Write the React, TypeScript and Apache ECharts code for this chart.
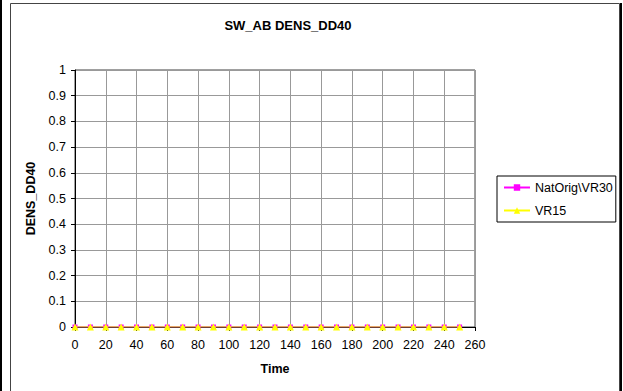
import React, { useEffect, useRef } from "react";
import * as echarts from "echarts";

const titleText = "SW_AB DENS_DD40";
const xAxisName = "Time";
const yAxisName = "DENS_DD40";
const seriesNames = ["NatOrig\\VR30", "VR15"];
const times = [0, 10, 20, 30, 40, 50, 60, 70, 80, 90, 100, 110, 120, 130, 140, 150, 160, 170, 180, 190, 200, 210, 220, 230, 240, 250];
const natOrigVR30 = [0, 0, 0, 0, 0, 0, 0, 0, 0, 0, 0, 0, 0, 0, 0, 0, 0, 0, 0, 0, 0, 0, 0, 0, 0, 0];
const vr15 = [0, 0, 0, 0, 0, 0, 0, 0, 0, 0, 0, 0, 0, 0, 0, 0, 0, 0, 0, 0, 0, 0, 0, 0, 0, 0];

const FONT = "Liberation Sans, Arial, sans-serif";

export default function App() {
  const ref = useRef<HTMLDivElement>(null);
  useEffect(() => {
    if (!ref.current) return;
    const chart = echarts.init(ref.current, null, { renderer: "svg" });
    const pair = (vals: number[]) => times.map((t, i) => [t, vals[i]]);
    chart.setOption({
      animation: false,
      backgroundColor: "#fff",
      textStyle: { fontFamily: FONT },
      graphic: [
        { type: "rect", shape: { x: 0, y: 0, width: 2, height: 391 }, style: { fill: "#000" }, silent: true },
        { type: "rect", shape: { x: 10.5, y: 3.5, width: 609, height: 400 }, style: { fill: "none", stroke: "#444", lineWidth: 1 }, silent: true },
        { type: "rect", shape: { x: 620, y: 3, width: 2, height: 388 }, style: { fill: "#000" }, silent: true },
        {
          type: "text",
          x: 288,
          y: 25,
          style: { text: titleText, font: `bold 13px ${FONT}`, fill: "#000", textAlign: "center", textVerticalAlign: "middle" },
        },
      ],
      legend: {
        orient: "vertical",
        left: 497,
        top: 176,
        width: 118,
        borderColor: "#000",
        borderWidth: 1,
        padding: [5, 3, 5, 6],
        itemWidth: 26,
        itemHeight: 8,
        itemGap: 10,
        textStyle: { fontFamily: FONT, fontSize: 12.5, color: "#000" },
        data: seriesNames,
      },
      grid: {
        left: 75,
        right: 148,
        top: 70,
        bottom: 64,
        show: true,
        borderColor: "#404040",
        borderWidth: 1,
      },
      xAxis: {
        type: "value",
        min: 0,
        max: 260,
        interval: 20,
        name: xAxisName,
        nameLocation: "middle",
        nameGap: 35,
        nameTextStyle: { fontFamily: FONT, fontSize: 12.5, fontWeight: "bold", color: "#000" },
        axisLine: { lineStyle: { color: "#000" } },
        axisTick: { show: true, length: 4, lineStyle: { color: "#000" } },
        axisLabel: { fontFamily: FONT, fontSize: 12.5, color: "#000", margin: 11 },
        splitLine: { show: true, lineStyle: { color: "#999", width: 1 } },
      },
      yAxis: {
        type: "value",
        min: 0,
        max: 1,
        interval: 0.1,
        name: yAxisName,
        nameLocation: "middle",
        nameGap: 35,
        nameRotate: 90,
        nameTextStyle: { fontFamily: FONT, fontSize: 12.5, fontWeight: "bold", color: "#000" },
        axisLine: { show: true, lineStyle: { color: "#000" } },
        axisTick: { show: true, length: 4, lineStyle: { color: "#000" } },
        axisLabel: { fontFamily: FONT, fontSize: 12.5, color: "#000", margin: 9 },
        splitLine: { show: true, lineStyle: { color: "#999", width: 1 } },
      },
      series: [
        {
          name: seriesNames[0],
          type: "line",
          data: pair(natOrigVR30),
          symbol: "rect",
          symbolSize: 5,
          showAllSymbol: true,
          itemStyle: { color: "#ff00ff" },
          lineStyle: { color: "#ff00ff", width: 1 },
          z: 3,
        },
        {
          name: seriesNames[1],
          type: "line",
          data: pair(vr15),
          symbol: "triangle",
          symbolSize: 7,
          showAllSymbol: true,
          itemStyle: { color: "#ffff00" },
          lineStyle: { color: "#ffff00", width: 1 },
          z: 4,
        },
      ],
    });
    return () => chart.dispose();
  }, []);
  return (
    <div
      ref={ref}
      style={{ position: "absolute", left: 0, top: 0, width: 623, height: 391 }}
    />
  );
}
